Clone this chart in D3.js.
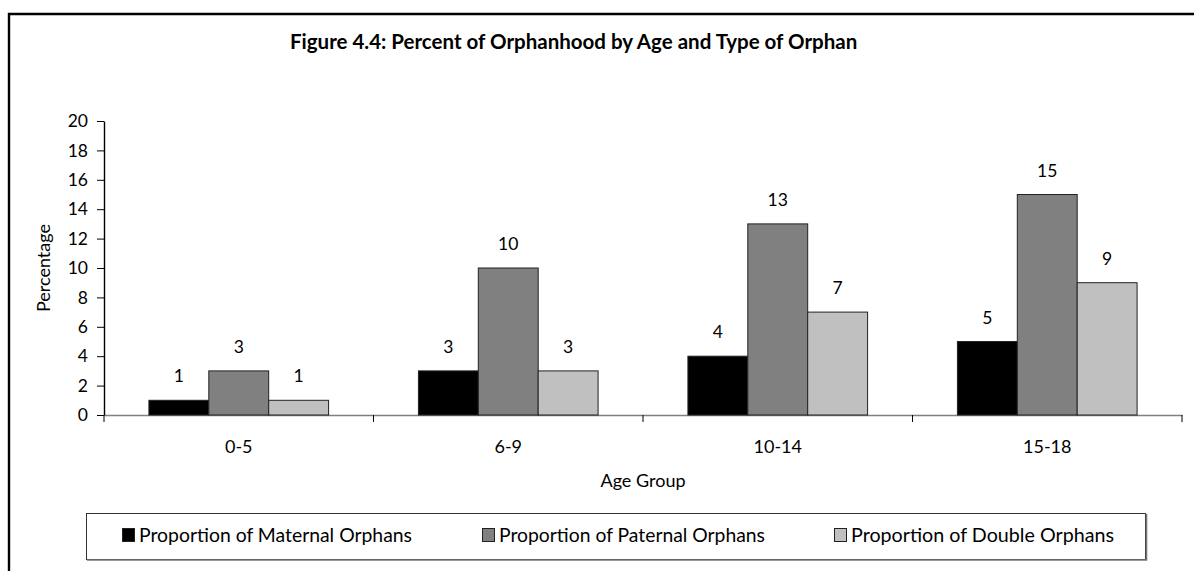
<!DOCTYPE html>
<html><head><meta charset="utf-8">
<script src="https://cdn.jsdelivr.net/npm/d3@7"></script>
<style>body{margin:0;background:#fff}svg{display:block}text{font-family:Lato,"Open Sans",sans-serif;fill:#000}</style>
</head><body><svg id="c" width="1194" height="571"></svg>
<script>
const categories = ["0-5","6-9","10-14","15-18"];
const seriesNames = ["Proportion of Maternal Orphans","Proportion of Paternal Orphans","Proportion of Double Orphans"];
const maternal = [1,3,4,5];
const paternal = [3,10,13,15];
const double_ = [1,3,7,9];
const yTicks = [0,2,4,6,8,10,12,14,16,18,20];
const colors = ["#000000","#808080","#c0c0c0"];

(function(){
const series = [maternal, paternal, double_];
const svg = d3.select("#c");
const pLeft = 104, pRight = 1182, pTop = 121, pBottom = 415;
const fs = "17.5px";

// outer frame
svg.append("path").attr("d","M9,571 V14 H1194").attr("fill","none").attr("stroke","#000").attr("stroke-width",2.4);

svg.append("text").attr("x",290).attr("y",49)
  .style("font-weight","bold").style("font-size","20.5px").text("Figure 4.4: Percent of Orphanhood by Age and Type of Orphan");

const x = d3.scaleBand().domain(categories).range([pLeft,pRight]).paddingInner(0).paddingOuter(0);
const y = d3.scaleLinear().domain([0,20]).range([pBottom,pTop]);
const bw = x.bandwidth()/4.5;
const x1 = d3.scaleBand().domain([0,1,2]).range([0,3*bw]);

// x axis line (drawn first, under bars)
const xa = svg.append("g").attr("transform",`translate(0,${pBottom})`)
  .call(d3.axisBottom(x).tickSize(0).tickPadding(0));
xa.select(".domain").attr("stroke","#808080").attr("stroke-width",1.5);
xa.selectAll("text").attr("dy",null).attr("y",38).style("font-size","18px").style("font-family","Lato");

// bars
series.forEach((s,si)=>{
  const g = svg.append("g");
  g.selectAll("rect").data(s).join("rect")
    .attr("x",(d,i)=>x(categories[i]) + 0.75*bw + x1(si))
    .attr("y",d=>y(d)).attr("width",bw).attr("height",d=>y(0)-y(d))
    .attr("fill",colors[si]).attr("stroke","#222").attr("stroke-width",1);
  g.selectAll("text").data(s).join("text")
    .attr("x",(d,i)=>x(categories[i]) + 0.75*bw + x1(si) + bw/2)
    .attr("y",d=>y(d)-18).attr("text-anchor","middle").style("font-size",fs).text(d=>d);
});

const bounds = categories.map(c=>x(c)).concat([pRight]);
svg.append("g").selectAll("line").data(bounds).join("line")
  .attr("x1",d=>d).attr("x2",d=>d).attr("y1",pBottom).attr("y2",pBottom+7).attr("stroke","#000");

// y axis
const ya = svg.append("g").attr("transform",`translate(${pLeft},0)`)
  .call(d3.axisLeft(y).tickValues(yTicks).tickSize(7).tickPadding(9).tickSizeOuter(0));
ya.select(".domain").attr("stroke","#000").attr("stroke-width",1.4);
ya.selectAll(".tick line").attr("stroke","#000");
ya.selectAll("text").style("font-size",fs).style("font-family","Lato");

svg.append("text").attr("transform","translate(50,268) rotate(-90)").attr("text-anchor","middle")
  .style("font-size","18px").text("Percentage");
svg.append("text").attr("x",643).attr("y",487).attr("text-anchor","middle")
  .style("font-size","18px").text("Age Group");

// legend
svg.append("rect").attr("x",86.5).attr("y",513.5).attr("width",1059).attr("height",46)
  .attr("fill","#fff").attr("stroke","#333").attr("stroke-width",1);
svg.append("path").attr("d","M87,560 H1146.5 V514").attr("fill","none").attr("stroke","#777").attr("stroke-width",1.6);
const lx = [122,482,834];
const lw = [273,266,263];
seriesNames.forEach((n,i)=>{
  svg.append("rect").attr("x",lx[i]+0.5).attr("y",528.5).attr("width",12).attr("height",13)
    .attr("fill",colors[i]).attr("stroke","#222").attr("stroke-width",1);
  svg.append("text").attr("x",lx[i]+17).attr("y",542).style("font-size","19px")
    .attr("textLength",lw[i]).attr("lengthAdjust","spacingAndGlyphs").text(n);
});
})();
</script></body></html>
